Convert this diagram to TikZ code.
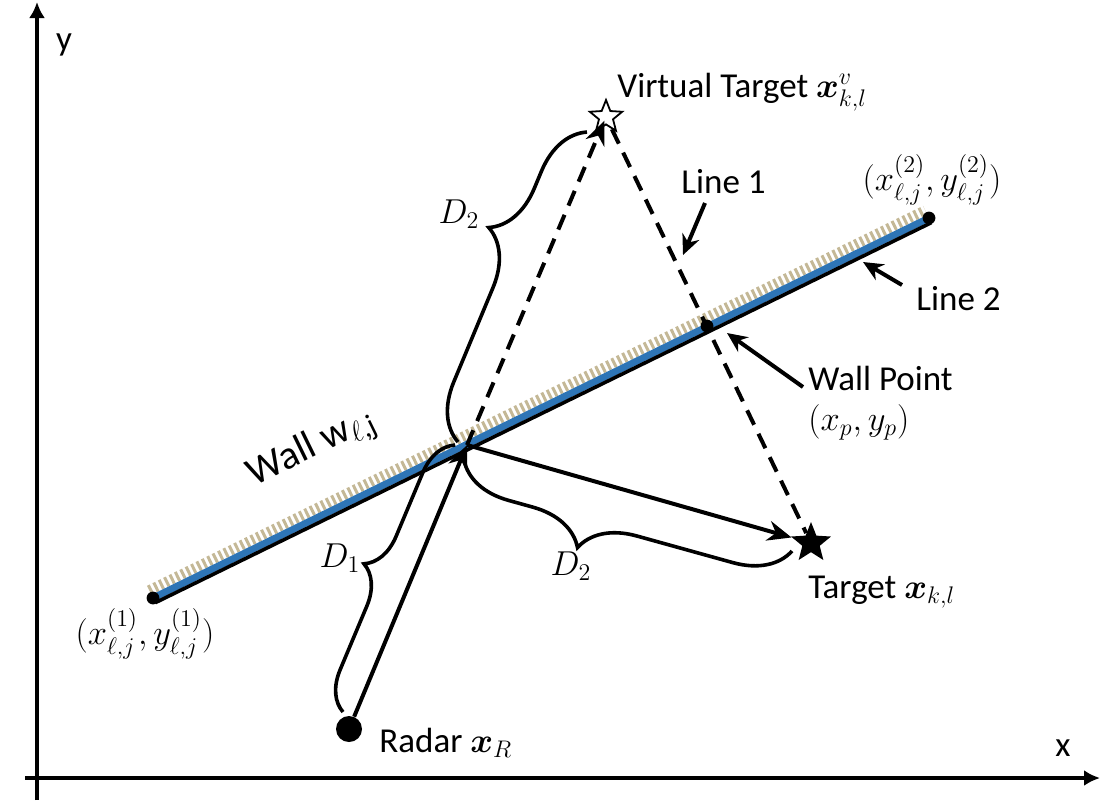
\documentclass[tikz,border=0pt]{standalone}
\usepackage{fontspec}
\setmainfont{Carlito}
\usepackage{amsmath}
\definecolor{wallblue}{RGB}{46,117,182}
\definecolor{walltan}{RGB}{196,184,150}
\usetikzlibrary{arrows.meta,shapes.geometric,positioning,calc,decorations.pathreplacing}

\begin{document}
\begin{tikzpicture}[x=0.5pt,y=-0.5pt,
        font=\fontsize{17.5}{21}\selectfont,
        seta/.style={-{Stealth[length=12pt,width=10pt]},line width=2pt},
        setafina/.style={-{Stealth[length=10pt,width=9pt]},line width=2pt},
        tracejado/.style={line width=2pt,dash pattern=on 8pt off 5pt},
        chave/.style={decorate,line width=1.8pt},
        rotulo/.style={anchor=base west,inner sep=0pt},
        ponto/.style={circle,fill=black,minimum size=6.4pt,inner sep=0pt}]

        \useasboundingbox (0,0) rectangle (1102,805);

        % Eixos
        \draw[-{Latex[length=8pt,width=8pt]},line width=2pt] (37,800) -- (37,2);
        \draw[-{Latex[length=8pt,width=8pt]},line width=2pt] (25,778) -- (1100,778);
        \node (ly) at (64,45) {y};
        \node (lx) at (1063,748) {x};

        % Parede (hachura, azul, borda preta)
        \coordinate (W1) at (153,598);
        \coordinate (W2) at (929,218);
        \draw[walltan,line width=5pt,dash pattern=on 1.5pt off 1.5pt]
            ($(W1)!4.3pt!90:(W2)$) -- ($(W2)!4.3pt!-90:(W1)$);
        \draw[wallblue,line width=3.5pt] (W1) -- (W2);
        \draw[line width=1.8pt] ($(W1)!2.6pt!-90:(W2)$) -- ($(W2)!2.6pt!90:(W1)$);
        \node[ponto] (p1) at (W1) {};
        \node[ponto] (p2) at (W2) {};
        \node[rotate=26,font=\fontsize{20}{24}\selectfont] (lw) at (312,449)
            {Wall w\raisebox{-3pt}{\fontsize{15}{15}\selectfont$\ell$,j}};

        % Alvos e radar
        \node[star,star points=5,star point ratio=2.3,minimum size=17pt,inner sep=0pt,
            draw,fill=white,line width=0.9pt] (vt) at (606,117) {};
        \node[star,star points=5,star point ratio=2.3,minimum size=21pt,inner sep=0pt,
            fill=black] (tg) at (811,543) {};
        \node[circle,fill=black,minimum size=13pt,inner sep=0pt] (radar) at (349,729) {};
        \coordinate (rf) at (467,445);

        % Caminhos
        \draw[seta] (radar) -- (rf);
        \draw[seta] (rf) -- (tg);
        \draw[tracejado,-{Stealth[length=12pt,width=10pt]},shorten >=2pt] (rf) -- (vt.center);
        \draw[tracejado] (vt) -- (tg);
        \node[ponto] (wp) at (707,326) {};

        % Chaves D1 e D2
        \coordinate (c1a) at (343,712);
        \coordinate (c1b) at (455,445);
        \draw[chave,decoration={brace,amplitude=19pt,aspect=0.5}] (c1a) -- (c1b);
        \coordinate (c2a) at (458,442);
        \coordinate (c2b) at (587,132);
        \draw[chave,decoration={brace,amplitude=27pt,aspect=0.625}] (c2a) -- (c2b);
        \coordinate (c3a) at (792,551);
        \coordinate (c3b) at (464,460);
        \draw[chave,decoration={brace,amplitude=27pt,aspect=0.61}] (c3a) -- (c3b);
        \node (d1) at (340,558) {$D_1$};
        \node (d2a) at (459,214) {$D_2$};
        \node (d2b) at (571,566) {$D_2$};

        % Rotulos
        \node[rotulo] (lvt) at (617,97) {Virtual Target $\boldsymbol{x}^{v}_{k,l}$};
        \node[rotulo] (l1) at (681,193) {Line 1};
        \node[rotulo] (l2) at (916,310) {Line 2};
        \node[rotulo] (lwp) at (808,390) {Wall Point};
        \node[rotulo] (lxp) at (808,430) {$(x_p,y_p)$};
        \node[rotulo] (ltg) at (808,598) {Target $\boldsymbol{x}_{k,l}$};
        \node[rotulo] (lrd) at (379,752) {Radar $\boldsymbol{x}_R$};
        \node (le2) at (932,180) {$(x^{(2)}_{\ell,j},y^{(2)}_{\ell,j})$};
        \node (le1) at (145,634) {$(x^{(1)}_{\ell,j},y^{(1)}_{\ell,j})$};

        % Setas de indicacao
        \coordinate (a1) at (705,203);
        \coordinate (b1) at (683,255);
        \draw[setafina] (a1) -- (b1);
        \coordinate (a2) at (902,285);
        \coordinate (b2) at (863,262);
        \draw[setafina] (a2) -- (b2);
        \coordinate (a3) at (803,387);
        \coordinate (b3) at (727,333);
        \draw[setafina] (a3) -- (b3);

    \end{tikzpicture}
\end{document}
